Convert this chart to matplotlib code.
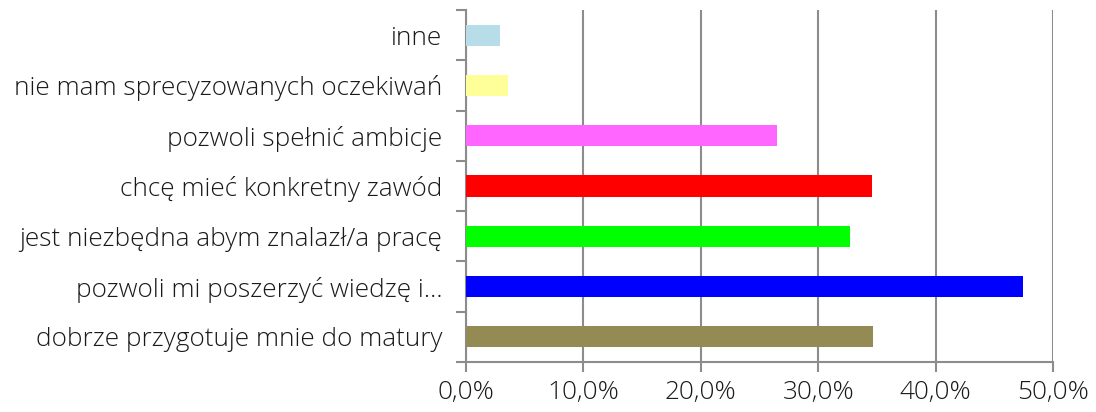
import matplotlib

matplotlib.use("Agg")
import matplotlib.pyplot as plt
from matplotlib.ticker import FuncFormatter

# categories bottom to top
categories = [
    "dobrze przygotuje mnie do matury",
    "pozwoli mi poszerzyć wiedzę i…",
    "jest niezbędna abym znalazł/a pracę",
    "chcę mieć konkretny zawód",
    "pozwoli spełnić ambicje",
    "nie mam sprecyzowanych oczekiwań",
    "inne",
]
values = [34.7, 47.4, 32.7, 34.6, 26.5, 3.6, 2.9]
colors = ["#948A54", "#0000FF", "#00FF00", "#FF0000", "#FF66FF", "#FFFF99", "#B7DDE8"]

plt.rcParams["font.family"] = ["Open Sans", "DejaVu Sans"]
plt.rcParams["font.weight"] = "light"

fig = plt.figure(figsize=(10.96, 4.12), dpi=100)
ax = fig.add_axes([0.4252, 0.1214, 0.5356, 0.8543])

ypos = list(range(len(categories)))
ax.barh(ypos, values, height=0.42, color=colors, zorder=3)

ax.set_xlim(0, 50)
ax.set_ylim(-0.5, len(categories) - 0.5)
ax.set_xticks([0, 10, 20, 30, 40, 50])
ax.xaxis.set_major_formatter(FuncFormatter(lambda v, p: f"{v:.1f}%".replace(".", ",")))
ax.grid(axis="x", color="#8c8c8c", linewidth=1.5, zorder=0)

ax.set_yticks(ypos)
ax.set_yticklabels(categories)
ax.set_yticks([y - 0.5 for y in range(len(categories) + 1)], minor=True)
ax.tick_params(axis="y", which="major", length=0, pad=17, labelsize=18.8, colors="#1a1a1a")
ax.tick_params(axis="y", which="minor", length=7, width=1.5, color="#8c8c8c")
ax.tick_params(axis="x", length=7, width=1.5, color="#8c8c8c", labelsize=18.8, labelcolor="#1a1a1a", pad=6)

for side in ["top", "right"]:
    ax.spines[side].set_visible(False)
for side in ["left", "bottom"]:
    ax.spines[side].set_color("#8c8c8c")
    ax.spines[side].set_linewidth(1.5)

fig.savefig("out.png", dpi=100)
